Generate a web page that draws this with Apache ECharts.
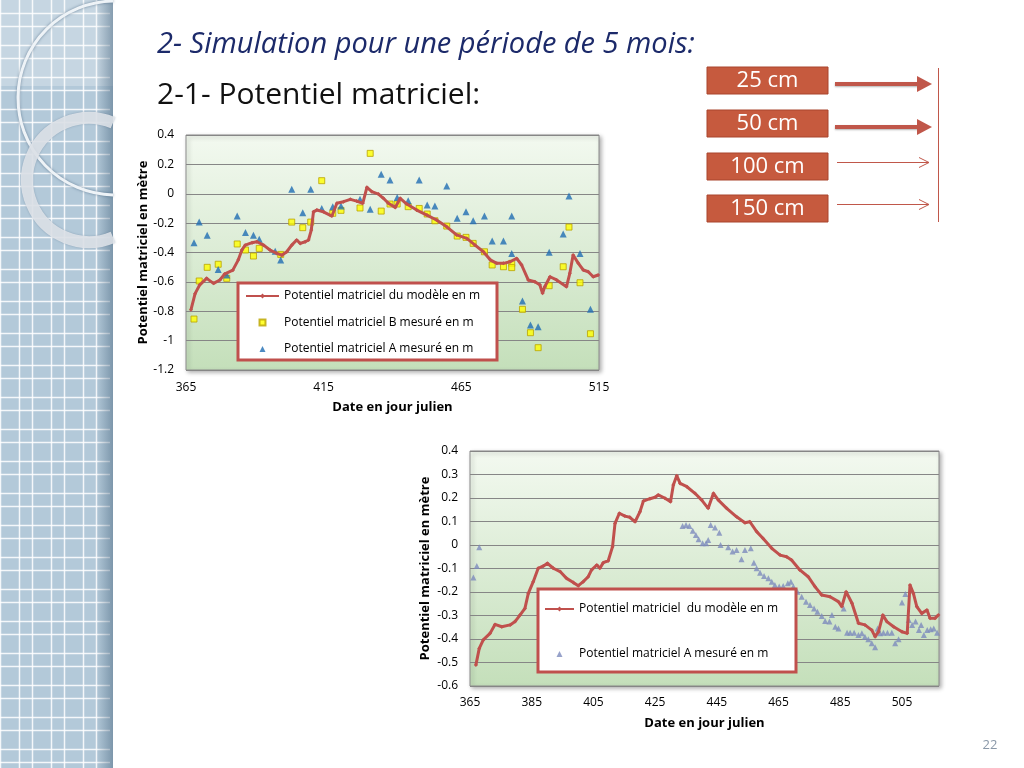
<!DOCTYPE html>
<html><head><meta charset="utf-8">
<script src="https://cdn.jsdelivr.net/npm/echarts@6/dist/echarts.min.js"></script>
<style>html,body{margin:0;padding:0;background:#fff}#c{width:1024px;height:768px}</style>
</head><body><div id="c"></div><script>
// ---------- Chart 1 (top): 5 mois, model + B + A ----------
const m1Days = [366.8,368.3,370,372.5,375,377.3,379,382,384,385.3,386.5,389,390.7,393.2,395.5,398,399.8,401.6,403.4,405.2,406.5,408.3,409.5,410.5,411.3,412.5,414.9,418,419.8,422.2,424.7,427,429.2,430.7,432.5,434.9,436.7,438.5,441,442.8,445.2,448.8,452.5,456,459.7,463.3,467,470,473,475.5,477.9,480.3,482.7,485.1,486.9,489.3,491.7,493.5,494.5,495.3,497.2,499.6,503.2,504.4,505.6,507.5,509.3,511.1,512.9,514.7];
const m1Vals = [-0.79,-0.68,-0.62,-0.576,-0.61,-0.587,-0.547,-0.52,-0.45,-0.383,-0.35,-0.333,-0.327,-0.35,-0.383,-0.406,-0.418,-0.395,-0.35,-0.315,-0.338,-0.327,-0.315,-0.247,-0.123,-0.111,-0.123,-0.152,-0.065,-0.054,-0.038,-0.05,-0.065,0.044,0.014,-0.002,-0.031,-0.065,-0.093,-0.031,-0.07,-0.111,-0.145,-0.179,-0.225,-0.28,-0.304,-0.35,-0.395,-0.45,-0.474,-0.474,-0.463,-0.44,-0.485,-0.587,-0.599,-0.62,-0.678,-0.633,-0.565,-0.587,-0.633,-0.542,-0.417,-0.474,-0.519,-0.531,-0.565,-0.553];
const b1Days = [367.9,369.8,372.7,376.7,379.8,383.6,386.6,389.5,391.6,399.4,403.4,407.4,410.3,414.3,418.3,421.3,428.2,431.9,435.9,439.1,441.7,445.7,449.7,452.6,455.4,459.7,463.5,466.7,469.3,473.4,476.2,480.3,483.3,483.3,487.2,490.1,492.9,496.9,502,504.1,508.1,511.9];
const b1Vals = [-0.853,-0.594,-0.501,-0.48,-0.576,-0.342,-0.383,-0.424,-0.372,-0.413,-0.193,-0.231,-0.193,0.089,-0.133,-0.113,-0.097,0.275,-0.118,-0.07,-0.07,-0.088,-0.1,-0.138,-0.184,-0.22,-0.288,-0.297,-0.338,-0.395,-0.485,-0.497,-0.474,-0.503,-0.787,-0.946,-1.048,-0.626,-0.497,-0.227,-0.606,-0.953];
const a1Days = [367.9,369.8,372.7,376.7,379.8,383.6,386.6,389.5,391.6,397.4,399.4,403.4,407.4,410.3,414.3,418.3,421.3,428.2,431.9,435.9,439.1,441.7,445.7,449.7,452.6,455.4,459.7,463.5,466.7,469.3,473.4,476.2,480.3,483.3,483.3,487.2,490.1,492.9,496.9,502,504.1,508.1,511.9];
const a1Vals = [-0.333,-0.193,-0.283,-0.515,-0.553,-0.152,-0.263,-0.283,-0.31,-0.392,-0.451,0.03,-0.129,0.03,-0.1,-0.088,-0.084,-0.038,-0.106,0.132,0.093,-0.025,-0.048,0.093,-0.077,-0.084,0.052,-0.167,-0.122,-0.184,-0.152,-0.322,-0.322,-0.152,-0.406,-0.73,-0.894,-0.905,-0.399,-0.274,-0.016,-0.406,-0.787];
const x1Ticks = [365,415,465,515];

// ---------- Chart 2 (bottom): model + A ----------
const m2Days = [366.9,368,369.3,371.5,373.1,375.3,378,379.6,381.2,382.8,383.9,385.5,387.1,388.8,390.1,392,394.2,396.3,398.5,400.1,401.7,403.3,404.4,406.1,407.1,408.2,409.8,411.2,412,413.4,415.2,416.8,418.5,420.1,421.2,423.3,425,426,428.2,430,430.9,432,433.1,435.3,437.9,440.1,442.2,443.9,445.5,448.2,451.4,454.1,455.7,457.9,460,462.8,465.5,467.6,469.2,471.9,474.6,476.8,479,481.7,484.4,485.5,486.9,488.8,490.9,493,495.2,496.3,497.4,498.8,500.1,502.3,505,506.7,507.6,508.7,509.8,511.4,513.1,514.1,515.7,516.8];
const m2Vals = [-0.511,-0.44,-0.404,-0.376,-0.338,-0.348,-0.34,-0.326,-0.298,-0.27,-0.206,-0.156,-0.099,-0.089,-0.078,-0.099,-0.113,-0.142,-0.16,-0.173,-0.156,-0.135,-0.106,-0.085,-0.099,-0.075,-0.067,-0.007,0.092,0.135,0.123,0.118,0.099,0.142,0.187,0.197,0.203,0.213,0.199,0.184,0.255,0.295,0.262,0.248,0.22,0.191,0.156,0.22,0.191,0.156,0.12,0.095,0.099,0.057,0.028,-0.014,-0.043,-0.05,-0.064,-0.106,-0.135,-0.177,-0.213,-0.22,-0.241,-0.262,-0.199,-0.248,-0.333,-0.34,-0.362,-0.39,-0.369,-0.298,-0.326,-0.348,-0.369,-0.376,-0.17,-0.206,-0.262,-0.291,-0.277,-0.312,-0.312,-0.298];
const a2Days = [366.1,367.2,368,433.9,435,436.1,437.2,438.2,439.1,440.4,441.5,442.2,443,444.4,445.8,446.2,448.7,450.1,451.4,453,454.1,456,457,457.9,459,460.3,461.7,462.8,463.8,465.2,466.5,468,469,469.8,471.1,472.5,473.9,475.2,476.5,477.6,479,480.1,481.5,482.3,483.4,484.4,486.1,487.2,488.2,489.5,490.9,492,493,494.1,495.2,496.3,497.1,497.9,499,500.3,501.7,502.8,503.9,505,506.1,507.2,508.3,509.4,510.5,511.2,512.1,513.2,514.3,515.3,516.4];
const a2Vals = [-0.138,-0.089,-0.01,0.081,0.085,0.081,0.061,0.043,0.024,0.007,0.007,0.021,0.085,0.075,0.052,0,-0.01,-0.028,-0.021,-0.061,-0.021,-0.014,-0.075,-0.099,-0.118,-0.132,-0.142,-0.156,-0.17,-0.177,-0.174,-0.163,-0.156,-0.177,-0.199,-0.22,-0.241,-0.255,-0.27,-0.284,-0.302,-0.323,-0.326,-0.298,-0.348,-0.355,-0.27,-0.373,-0.373,-0.373,-0.383,-0.376,-0.39,-0.401,-0.418,-0.435,-0.355,-0.376,-0.373,-0.373,-0.373,-0.418,-0.401,-0.245,-0.209,-0.319,-0.34,-0.326,-0.362,-0.34,-0.383,-0.362,-0.359,-0.355,-0.373];
const x2Ticks = [365,385,405,425,445,465,485,505];

const depthLabels = ['25 cm','50 cm','100 cm','150 cm'];
const titleText = '2- Simulation pour une période de 5 mois:';
const subTitleText = '2-1- Potentiel matriciel:';
const nameModel1 = 'Potentiel matriciel du modèle en m';
const nameB1 = 'Potentiel matriciel B mesuré en m';
const nameA1 = 'Potentiel matriciel A mesuré en m';
const nameModel2 = 'Potentiel matriciel  du modèle en m';
const nameA2 = 'Potentiel matriciel A mesuré en m ';

const zip = (a, b) => a.map((d, i) => [d, b[i]]);
const FONT = '"Open Sans", Lato, sans-serif';
const RED = '#c0504d';

const plotBg = {type:'linear',x:0,y:0,x2:0,y2:1,colorStops:[{offset:0,color:'#f3f9f0'},{offset:1,color:'#c4dfba'}]};

// ---------- decorations ----------
const deco = [];
deco.push({type:'rect', shape:{x:0,y:0,width:113,height:768}, style:{fill:'#b3c9d9'}, silent:true});
deco.push({type:'rect', shape:{x:0,y:0,width:113,height:86}, style:{fill:'rgba(255,255,255,0.25)'}, silent:true});
for (let k = 0; k < 4; k++) {
  [32*k, 32*k+19].forEach(x => { if (x < 110) deco.push({type:'line', shape:{x1:x+0.5,y1:0,x2:x+0.5,y2:768}, style:{stroke:'rgba(255,255,255,0.85)', lineWidth:1.5}, silent:true}); });
}
for (let k = 0; k < 25; k++) {
  [32*k+13, 32*k+26].forEach(y => deco.push({type:'line', shape:{x1:0,y1:y+0.5,x2:110,y2:y+0.5}, style:{stroke:'rgba(255,255,255,0.85)', lineWidth:1.5}, silent:true}));
}
deco.push({type:'rect', shape:{x:96,y:0,width:17,height:768}, style:{fill:{type:'linear',x:0,y:0,x2:1,y2:0,colorStops:[{offset:0,color:'rgba(70,100,125,0)'},{offset:1,color:'rgba(70,100,125,0.5)'}]}}, silent:true});
deco.push({type:'arc', shape:{cx:115,cy:98,r:97,startAngle:Math.PI/2+0.02,endAngle:Math.PI*1.5-0.02,clockwise:true}, style:{stroke:'#eef3f7',lineWidth:3,fill:null,shadowBlur:3,shadowColor:'rgba(50,80,110,0.6)'}, silent:true});
const ra = Math.acos((113-89)/62);
deco.push({type:'arc', shape:{cx:89,cy:180,r:62,startAngle:ra,endAngle:2*Math.PI-ra,clockwise:true}, style:{stroke:'rgba(228,232,236,0.85)',lineWidth:12,fill:null,shadowBlur:2,shadowColor:'rgba(50,80,110,0.4)'}, silent:true});

// titles
deco.push({type:'text', x:157, y:45, style:{text:titleText, font:'italic 29px '+FONT, fill:'#1c2a6a', textVerticalAlign:'middle'}});
deco.push({type:'text', x:157, y:95, style:{text:subTitleText, font:'30px '+FONT, fill:'#111', textVerticalAlign:'middle'}});

// depth boxes and arrows
const boxY = [67,110,153,195];
depthLabels.forEach((t, i) => {
  deco.push({type:'rect', shape:{x:707,y:boxY[i],width:121,height:27}, style:{fill:'#c65a3e',stroke:'#a9452d',lineWidth:1}});
  deco.push({type:'text', x:767.5, y:boxY[i]+14, style:{text:t, font:'22px '+FONT, fill:'#fff', textAlign:'center', textVerticalAlign:'middle'}});
  const ay = boxY[i] + (i < 2 ? 17 : 9);
  if (i < 2) {
    deco.push({type:'line', shape:{x1:835,y1:ay,x2:920,y2:ay}, style:{stroke:'#c0574a',lineWidth:4,shadowBlur:2,shadowColor:'rgba(0,0,0,0.3)',shadowOffsetY:1}});
    deco.push({type:'polygon', shape:{points:[[917,ay-8],[932,ay],[917,ay+8]]}, style:{fill:'#c0574a'}});
  } else {
    deco.push({type:'line', shape:{x1:837,y1:ay+0.5,x2:929,y2:ay+0.5}, style:{stroke:'#c0574a',lineWidth:1}});
    deco.push({type:'polyline', shape:{points:[[919,ay-4.5],[929,ay+0.5],[919,ay+5.5]]}, style:{stroke:'#c0574a',lineWidth:1,fill:null}});
  }
});
deco.push({type:'line', shape:{x1:938.5,y1:68,x2:938.5,y2:222}, style:{stroke:'#c0574a',lineWidth:1}});
deco.push({type:'text', x:990, y:745, style:{text:'22', font:'13px '+FONT, fill:'#8a98a8', textAlign:'center', textVerticalAlign:'middle'}});

// legend boxes
deco.push({type:'rect', z:10, shape:{x:238,y:283,width:259,height:77}, style:{fill:'#fff',stroke:RED,lineWidth:3}});
deco.push({type:'rect', z:10, shape:{x:538,y:589,width:258,height:83}, style:{fill:'#fff',stroke:RED,lineWidth:3}});

const axisLbl = {color:'#000', fontSize:12, fontFamily:FONT};
const nameStyle = {color:'#000', fontSize:13, fontWeight:'bold', fontFamily:FONT};
const SQ = 'path://M0,0L10,0L10,10L0,10Z';
const TRI = 'path://M5,0L10,10L0,10Z';

const option = {
  animation:false,
  backgroundColor:'#fff',
  graphic:{elements:deco},
  grid:[
    {left:186, top:135, width:413, height:235, show:true, backgroundColor:plotBg, borderColor:'#8c8c8c', borderWidth:1, shadowBlur:4, shadowColor:'rgba(0,0,0,0.3)', shadowOffsetX:2, shadowOffsetY:2},
    {left:470, top:451, width:469, height:235, show:true, backgroundColor:plotBg, borderColor:'#8c8c8c', borderWidth:1, shadowBlur:4, shadowColor:'rgba(0,0,0,0.3)', shadowOffsetX:2, shadowOffsetY:2}
  ],
  xAxis:[
    {type:'value', gridIndex:0, min:365, max:515, interval:5, axisLine:{show:false}, axisTick:{show:false}, splitLine:{show:false},
     axisLabel:Object.assign({margin:12, formatter:v => x1Ticks.includes(v) ? String(v) : ''}, axisLbl),
     name:'Date en jour julien', nameLocation:'middle', nameGap:31, nameTextStyle:nameStyle},
    {type:'value', gridIndex:1, min:365, max:517, interval:5, axisLine:{show:false}, axisTick:{show:false}, splitLine:{show:false},
     axisLabel:Object.assign({margin:11, formatter:v => x2Ticks.includes(v) ? String(v) : ''}, axisLbl),
     name:'Date en jour julien', nameLocation:'middle', nameGap:31, nameTextStyle:nameStyle}
  ],
  yAxis:[
    {type:'value', gridIndex:0, min:-1.2, max:0.4, interval:0.2, axisLine:{show:false}, axisTick:{show:false},
     splitLine:{lineStyle:{color:'#868686', width:1}}, axisLabel:Object.assign({margin:12}, axisLbl),
     name:'Potentiel matriciel en mètre', nameLocation:'middle', nameGap:35, nameTextStyle:nameStyle},
    {type:'value', gridIndex:1, min:-0.6, max:0.4, interval:0.1, axisLine:{show:false}, axisTick:{show:false},
     splitLine:{lineStyle:{color:'#868686', width:1}}, axisLabel:Object.assign({margin:12}, axisLbl),
     name:'Potentiel matriciel en mètre', nameLocation:'middle', nameGap:38, nameTextStyle:nameStyle}
  ],
  legend:[
    {z:20, left:245, top:289, orient:'vertical', padding:0, itemWidth:33, itemHeight:6, itemGap:12.5,
     textStyle:{fontSize:12, fontFamily:FONT, color:'#000', lineHeight:14},
     data:[{name:nameModel1}, {name:nameB1, icon:SQ}, {name:nameA1, icon:TRI}]},
    {z:20, left:544, top:602, orient:'vertical', padding:0, itemWidth:29, itemHeight:6, itemGap:31,
     textStyle:{fontSize:12, fontFamily:FONT, color:'#000', lineHeight:14},
     data:[{name:nameModel2}, {name:nameA2, icon:TRI}]}
  ],
  series:[
    {type:'line', name:nameModel1, xAxisIndex:0, yAxisIndex:0, data:zip(m1Days, m1Vals), symbol:'diamond', symbolSize:4,
     itemStyle:{color:RED}, lineStyle:{color:RED, width:3}},
    {type:'scatter', name:nameB1, xAxisIndex:0, yAxisIndex:0, data:zip(b1Days, b1Vals), symbol:'rect', symbolSize:6,
     itemStyle:{color:'#ffff00', borderColor:'#b9a200', borderWidth:1}},
    {type:'scatter', name:nameA1, xAxisIndex:0, yAxisIndex:0, data:zip(a1Days, a1Vals), symbol:'triangle', symbolSize:7,
     itemStyle:{color:'#1f6db3'}},
    {type:'line', name:nameModel2, xAxisIndex:1, yAxisIndex:1, data:zip(m2Days, m2Vals), symbol:'diamond', symbolSize:4,
     itemStyle:{color:RED}, lineStyle:{color:RED, width:3}},
    {type:'scatter', name:nameA2, xAxisIndex:1, yAxisIndex:1, data:zip(a2Days, a2Vals), symbol:'triangle', symbolSize:6,
     itemStyle:{color:'#7d8bbd'}}
  ]
};
const chart = echarts.init(document.getElementById('c'));
chart.setOption(option);
</script></body></html>
